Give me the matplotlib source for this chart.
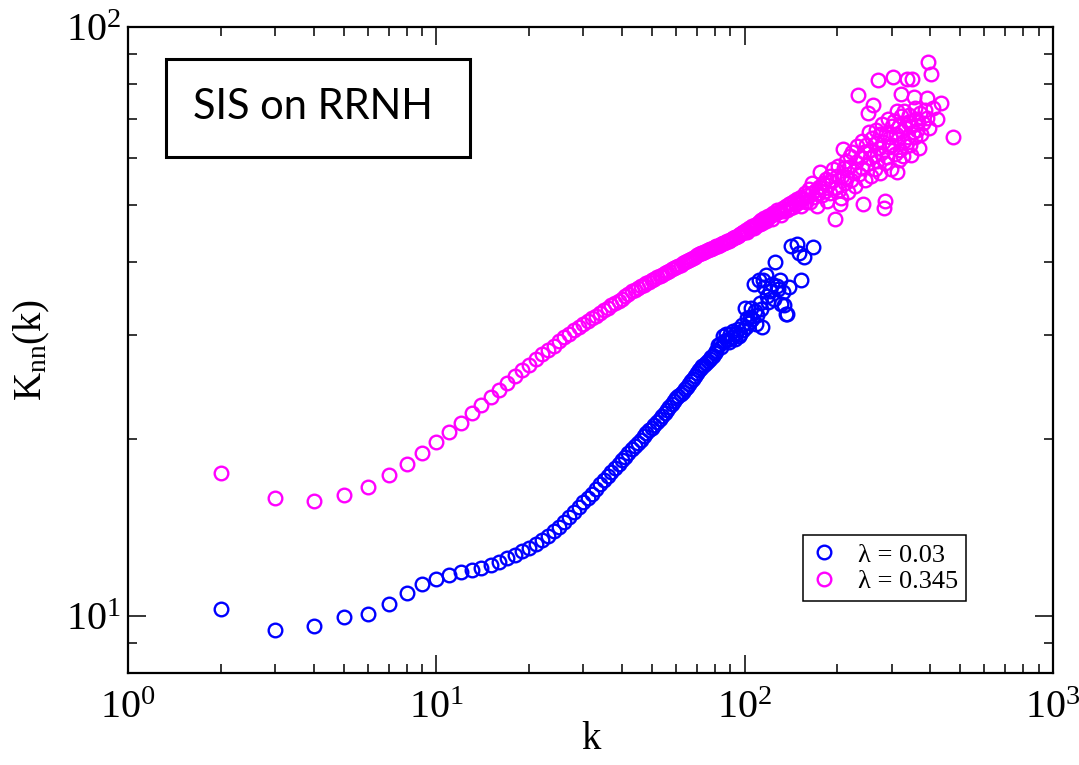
import math
import matplotlib
matplotlib.use("Agg")
import matplotlib.pyplot as plt
from matplotlib.patches import Rectangle
from matplotlib.ticker import LogLocator, FuncFormatter, NullFormatter

plt.rcParams["font.family"] = ["Liberation Serif", "DejaVu Serif"]
plt.rcParams["mathtext.fontset"] = "custom"
plt.rcParams["mathtext.rm"] = "Liberation Serif"
plt.rcParams["mathtext.it"] = "Liberation Serif:italic"

# ---- data: average nearest-neighbour degree K_nn(k) ----
k_low = [2, 3, 4, 5, 6, 7, 8, 9, 10, 11, 12, 13, 14, 15, 16, 17, 18, 19, 20,
         21, 22, 23, 24, 25, 26, 27, 28, 29, 30, 31, 32, 33, 34, 35, 36, 37, 38,
         39, 40, 41, 42, 43, 44, 45, 46, 47, 48, 49, 50, 51, 52, 53, 54, 55, 56,
         57, 58, 59, 60, 61, 62, 63, 64, 65, 66, 67, 68, 69, 70, 71, 72, 73, 74,
         75, 76, 77, 78, 79, 80,
         81, 82, 83, 84, 85, 86, 87, 88, 89, 90, 91, 92, 93, 94, 95, 96, 97, 98,
         99, 100, 101, 102, 103, 104, 105, 106, 107, 108, 109, 110, 111, 112,
         113, 114, 115, 116, 117, 118, 119, 121, 123, 125, 126, 127, 128, 130,
         131, 133, 134, 136, 137, 139, 142, 148, 150, 153, 156, 167]
knn_low = [10.27, 9.46, 9.62, 9.96, 10.09, 10.47, 10.94, 11.33, 11.56, 11.73,
           11.88, 11.96, 12.08, 12.21, 12.36, 12.54, 12.70, 12.88, 13.07,
           13.25, 13.45, 13.7, 13.95, 14.2, 14.47, 14.75, 15.05, 15.32, 15.6,
           15.9, 16.15, 16.45, 16.75, 17.0, 17.3, 17.55, 17.85, 18.1, 18.4,
           18.65, 18.95, 19.2, 19.45, 19.7, 19.95, 20.2, 20.45, 20.7, 20.9,
           21.15, 21.4, 21.6, 21.85, 22.1, 22.4, 22.7, 22.95, 23.2, 23.45,
           23.65, 23.85, 24.05, 24.3, 24.55, 24.8, 25.05, 25.3, 25.6, 25.9,
           26.15, 26.4, 26.6, 26.75, 26.9, 27.1, 27.3, 27.5, 27.7, 28.0,
           28.2, 28.9, 29.0, 28.6, 29.9, 29.3, 30.1, 29.5, 29.2, 30.1, 29.8,
           30.5, 29.6, 30.3, 30.8, 29.9, 30.2, 31.2, 30.6, 33.4, 31.0, 32.1,
           31.5, 32.2, 33.4, 32.0, 36.7, 33.0, 31.4, 32.5, 37.2, 34.0, 33.2,
           31.0, 37.2, 36.2, 37.9, 35.0, 34.2, 35.7, 36.6, 34.6, 39.9, 36.4,
           36.0, 37.2, 33.9, 35.5, 33.7, 32.6, 32.6, 36.2, 42.5, 42.9, 41.3,
           37.3, 40.7, 42.3]

k_high = [2, 3, 4, 5, 6, 7, 8, 9, 10, 11, 12, 13, 14, 15, 16, 17, 18, 19, 20,
          21, 22, 23, 24, 25, 26, 27, 28, 29, 30, 31, 32, 33, 34, 35, 36, 37,
          38, 39, 40, 41, 42, 43, 44, 45, 46, 47, 48, 49, 50, 51, 52, 53, 54,
          55, 56, 57, 58, 59, 60, 61, 62, 63, 64, 65, 66, 67, 68, 69, 70, 71,
          72, 73, 74, 75, 76, 77, 78, 79, 80, 81, 82, 83, 84, 85, 86, 87, 88,
          89, 90, 91, 92, 93, 94, 95, 96, 97, 98, 99, 100,
          101, 102, 103, 104, 105, 106, 107, 108, 109, 110, 111, 112, 113, 114,
          115, 116, 117, 118, 119, 120, 122, 123, 124, 126, 127, 128, 130, 131,
          133, 134, 136, 137, 139, 140, 142, 144, 145, 147, 148, 150, 152, 153,
          155, 157, 158, 160, 162, 163, 165, 166, 168, 170, 172, 173, 175, 176,
          178, 180, 182, 184, 185, 187, 189, 190, 192, 194, 196, 197, 199, 201,
          203, 204, 206, 207, 209, 210, 212, 214, 215, 217, 219, 220, 222, 224,
          226, 228, 230, 232, 234, 236, 238, 240, 241, 243, 245, 246, 248, 250,
          252, 253, 255, 256, 258, 260, 262, 263, 265, 267, 268, 270, 272, 273,
          275, 276, 278, 280, 282, 284, 285, 286, 288, 290, 292, 294, 296, 298,
          300, 302, 304, 306, 308, 310, 312, 313, 315, 317, 318, 320, 321, 323,
          325, 327, 329, 330, 332, 334, 336, 338, 340, 342, 345, 347, 348, 350,
          352, 355, 357, 358, 360, 362, 365, 368, 370, 375, 380, 385, 390, 392,
          395, 398, 403, 410, 420, 433, 476]
knn_high = [17.5, 15.9, 15.7, 16.05, 16.6, 17.35, 18.1, 18.95, 19.8, 20.55,
            21.3, 22.1, 22.8, 23.55, 24.25, 24.9, 25.55, 26.15, 26.75, 27.3,
            27.85, 28.35, 28.8, 29.3, 29.75, 30.2, 30.6, 31.0, 31.35, 31.7,
            32.05, 32.4, 32.75, 33.1, 33.4, 33.7, 34.0, 34.3, 34.6, 34.95,
            35.3, 35.6, 35.85, 36.1, 36.3, 36.55, 36.8, 37.0, 37.2, 37.4, 37.6,
            37.8, 38.0, 38.2, 38.4, 38.6, 38.8, 39.0, 39.2, 39.35, 39.55, 39.75,
            39.9, 40.1, 40.3, 40.45, 40.65, 40.8, 41.0, 41.15, 41.3, 41.4,
            41.55, 41.7, 41.8, 41.95, 42.1, 42.2, 42.35, 42.5, 42.6, 42.7, 42.8,
            42.95, 43.05, 43.2, 43.3, 43.4, 43.5, 43.7, 43.85, 44.0, 44.1,
            44.25, 44.4, 44.55, 44.7, 44.85, 45.0,
            45.3, 44.9, 45.6, 45.4, 45.7, 46.0, 45.6, 46.2, 46.0, 46.35, 46.8,
            46.3, 47.0, 46.6, 47.0, 47.4, 46.9, 47.5, 47.8, 47.6, 48.0, 47.3,
            48.4, 48.2, 49.0, 48.5, 48.8, 48.0, 49.4, 48.8, 49.7, 49.0, 50.1,
            49.4, 50.3, 49.6, 50.8, 50.2, 51.2, 50.6, 51.6, 49.8, 51.2, 52.3,
            50.6, 51.9, 53.1, 50.5, 52.4, 54.5, 51.6, 53.0, 49.7, 52.2, 53.6,
            56.8, 51.9, 54.4, 52.8, 55.3, 50.8, 53.9, 56.0, 52.4, 54.8, 57.5,
            47.3, 53.3, 55.9, 58.2, 53.0, 50.2, 51.3, 56.0, 62.2, 57.6, 54.4,
            59.3, 55.6, 52.6, 57.9, 60.5, 55.0, 61.3, 57.0, 53.8, 59.0, 62.8,
            76.7, 56.3, 60.2, 64.0, 57.8, 50.1, 61.5, 55.1, 63.0, 58.6, 71.4,
            66.3, 59.9, 62.0, 55.9, 64.8, 73.8, 60.7, 57.4, 63.5, 67.0, 59.3,
            81.3, 62.4, 65.8, 56.6, 61.2, 68.5, 63.8, 49.3, 58.8, 50.8, 66.2,
            60.2, 70.0, 62.7, 65.0, 57.5, 67.9, 63.1, 82.4, 69.4, 61.0, 65.8,
            56.8, 72.2, 64.5, 59.6, 68.1, 62.0, 77.0, 70.6, 66.6, 60.5, 64.0,
            72.0, 67.6, 62.8, 81.7, 69.0, 65.0, 71.0, 63.0, 60.6, 68.0, 81.7,
            66.5, 76.2, 65.2, 73.0, 70.0, 67.0, 69.0, 62.5, 71.5, 66.0, 68.8,
            72.5, 75.9, 70.1, 87.2, 67.5, 83.2, 73.0, 70.0, 74.3, 65.2]

series_labels = ["λ = 0.03", "λ = 0.345"]
series_colors = ["#0000ff", "#ff00ff"]
x_label = "k"
y_label = r"$\mathregular{K_{nn}(k)}$"
title_text = "SIS on RRNH"

# ---- figure ----
fig = plt.figure(figsize=(10.79, 7.65), dpi=100)
ax = fig.add_axes([0.1189, 0.1199, 0.8567, 0.8444])

marker_kw = dict(linestyle="none", marker="o", markersize=9.8,
                 markerfacecolor="none", markeredgewidth=1.7)
ax.plot(k_low, knn_low, color=series_colors[0], label=series_labels[0], **marker_kw)
ax.plot(k_high, knn_high, color=series_colors[1], label=series_labels[1], **marker_kw)

ax.set_xscale("log")
ax.set_yscale("log")
ax.set_xlim(1, 1000)
ax.set_ylim(8, 100)

for side in ax.spines.values():
    side.set_linewidth(1.6)

ax.xaxis.set_major_locator(LogLocator(base=10, numticks=10))
ax.yaxis.set_major_locator(LogLocator(base=10, numticks=10))
ax.xaxis.set_minor_locator(LogLocator(base=10, subs=range(2, 10), numticks=20))
ax.yaxis.set_minor_locator(LogLocator(base=10, subs=range(2, 10), numticks=20))
pow_fmt = FuncFormatter(lambda v, pos: r"$\mathregular{10^{%d}}$" % round(math.log10(v)))
ax.xaxis.set_major_formatter(pow_fmt)
ax.yaxis.set_major_formatter(pow_fmt)
ax.xaxis.set_minor_formatter(NullFormatter())
ax.yaxis.set_minor_formatter(NullFormatter())

ax.tick_params(which="both", direction="in", top=True, right=True, width=1.1,
               labelsize=29)
ax.tick_params(which="major", length=13)
ax.tick_params(which="minor", length=6.5)
ax.tick_params(axis="x", which="major", pad=12)
ax.tick_params(axis="y", which="major", pad=5)

ax.set_xlabel(x_label, fontsize=28, labelpad=-4)
ax.set_ylabel(y_label, fontsize=28, labelpad=10)

# boxed annotation in the upper-left corner
ax.add_patch(Rectangle((0.0408, 0.7992), 0.3289, 0.1518, transform=ax.transAxes,
                       fill=False, edgecolor="black", linewidth=2.2, zorder=5))
ax.text(0.1993, 0.877, title_text, transform=ax.transAxes, ha="center",
        va="center", fontsize=30, family=["Lato", "DejaVu Sans"], zorder=6)

leg = ax.legend(loc="upper left", bbox_to_anchor=(0.7299, 0.2136), fontsize=19,
                frameon=True, fancybox=False, edgecolor="black", framealpha=1,
                borderpad=0.3, handlelength=1.0, handletextpad=0.8,
                labelspacing=0.12, borderaxespad=0)
leg.get_frame().set_linewidth(1.1)

fig.savefig("out.png", dpi=100)
